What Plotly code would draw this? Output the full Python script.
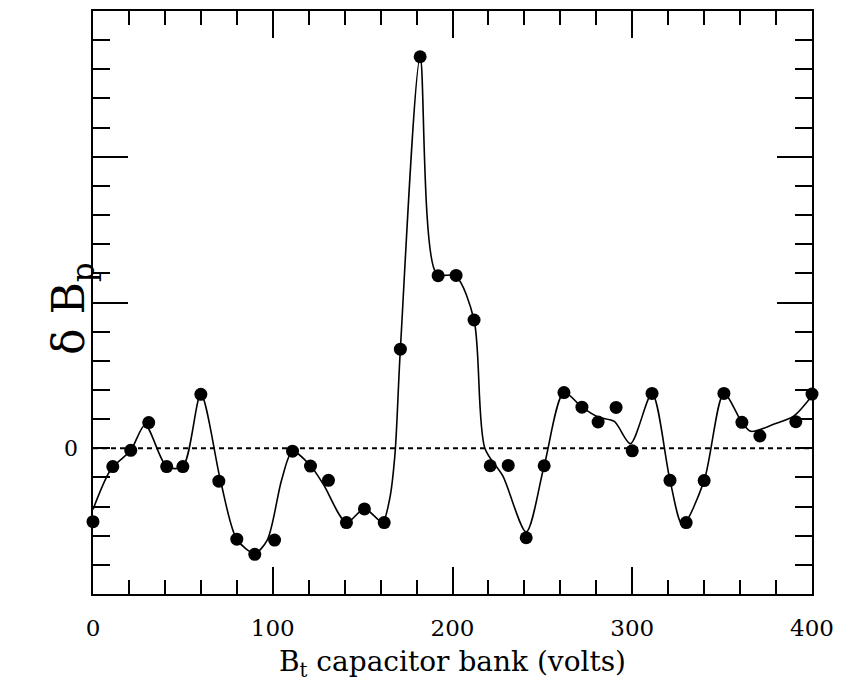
import plotly.graph_objects as go

# Measured points: B_t capacitor bank voltage vs. delta B_p
volts = [0, 11, 21, 31, 41, 50, 60, 70, 80, 90, 101, 111, 121, 131, 141, 151,
         162, 171, 182, 192, 202, 212, 221, 231, 241, 251, 262, 272, 281, 291,
         300, 311, 321, 330, 340, 351, 361, 371, 391, 400]
delta_bp = [-2.52, -0.63, -0.07, 0.88, -0.63, -0.63, 1.85, -1.13, -3.12, -3.64,
            -3.15, -0.1, -0.61, -1.1, -2.55, -2.08, -2.55, 3.4, 13.43, 5.92,
            5.93, 4.4, -0.6, -0.59, -3.07, -0.6, 1.91, 1.41, 0.9, 1.4,
            -0.09, 1.88, -1.1, -2.55, -1.11, 1.88, 0.89, 0.42, 0.91, 1.86]

# Smoothed trend curve through the data
curve_x = [0, 10, 21, 29, 41, 50, 60, 71, 80, 90, 97, 105, 111, 121, 128, 141,
           151, 161, 165, 168, 171, 182, 191, 202, 212, 218, 228, 241, 251, 262,
           272, 281, 290, 299, 311, 321, 328, 340, 351, 361, 366, 379, 390, 400]
curve_y = [-2.1, -0.72, -0.07, 0.8, -0.63, -0.63, 1.85, -1.13, -3.12, -3.6,
           -3.14, -1.07, -0.1, -0.6, -1.22, -2.55, -2.07, -2.53, -1.75, -0.2,
           3.4, 13.4, 6.0, 5.9, 4.4, 0.0, -0.95, -2.87, -0.6, 1.91,
           1.41, 1.07, 0.92, 0.16, 1.88, -1.1, -2.63, -1.11, 1.88, 0.89,
           0.58, 0.83, 1.11, 1.8]

# Zero reference line
zero_x = [0, 100, 200, 300, 400]
zero_y = [0, 0, 0, 0, 0]

x_ticks = [0, 100, 200, 300, 400]
x_labels = ["0", "100", "200", "300", "400"]
y_major_ticks = [5, 10]
y_zero_label = "0"

FONT = "DejaVu Serif"

fig = go.Figure()

fig.add_trace(go.Scatter(
    x=zero_x, y=zero_y, mode="lines",
    line=dict(color="black", width=1.8, dash="5px,4px"),
    cliponaxis=False, hoverinfo="skip", showlegend=False,
))

fig.add_trace(go.Scatter(
    x=curve_x, y=curve_y, mode="lines",
    line=dict(color="black", width=1.6, shape="spline", smoothing=0.8),
    hoverinfo="skip", showlegend=False,
))

fig.add_trace(go.Scatter(
    x=volts, y=delta_bp, mode="markers",
    marker=dict(color="black", size=13),
    cliponaxis=False, showlegend=False,
))

axis_common = dict(
    showgrid=False, zeroline=False, showline=True, linecolor="black",
    linewidth=2, mirror="allticks", ticks="inside", tickcolor="black",
    tickwidth=2,
)

fig.update_xaxes(
    range=[0, 400], tickvals=x_ticks, ticktext=x_labels, ticklen=27,
    tickfont=dict(family=FONT, size=23, color="black"),
    ticklabelstandoff=12,
    minor=dict(dtick=20, ticklen=14, ticks="inside", tickcolor="black",
               tickwidth=2, showgrid=False),
    title=dict(text="B<sub>t</sub> capacitor bank (volts)",
               font=dict(family=FONT, size=28, color="black"), standoff=12),
    **axis_common,
)
fig.update_yaxes(
    range=[-5, 15], tickvals=y_major_ticks, showticklabels=False, ticklen=35,
    minor=dict(dtick=1, ticklen=17, ticks="inside", tickcolor="black",
               tickwidth=2, showgrid=False),
    **axis_common,
)

# Only the zero level carries a label on the vertical axis
fig.add_annotation(
    text=y_zero_label, xref="paper", yref="y", x=-0.018, y=0,
    xanchor="right", yanchor="middle", showarrow=False,
    font=dict(family=FONT, size=22, color="black"),
)

fig.add_annotation(
    text="δ B<sub>p</sub>", xref="paper", yref="paper",
    x=-0.072, y=0.49, textangle=-90, showarrow=False,
    font=dict(family=FONT, size=44, color="black"),
)

fig.update_layout(
    width=843, height=698,
    margin=dict(l=93, r=31, t=9, b=104),
    paper_bgcolor="white", plot_bgcolor="white",
)

fig.write_html("out.html")
